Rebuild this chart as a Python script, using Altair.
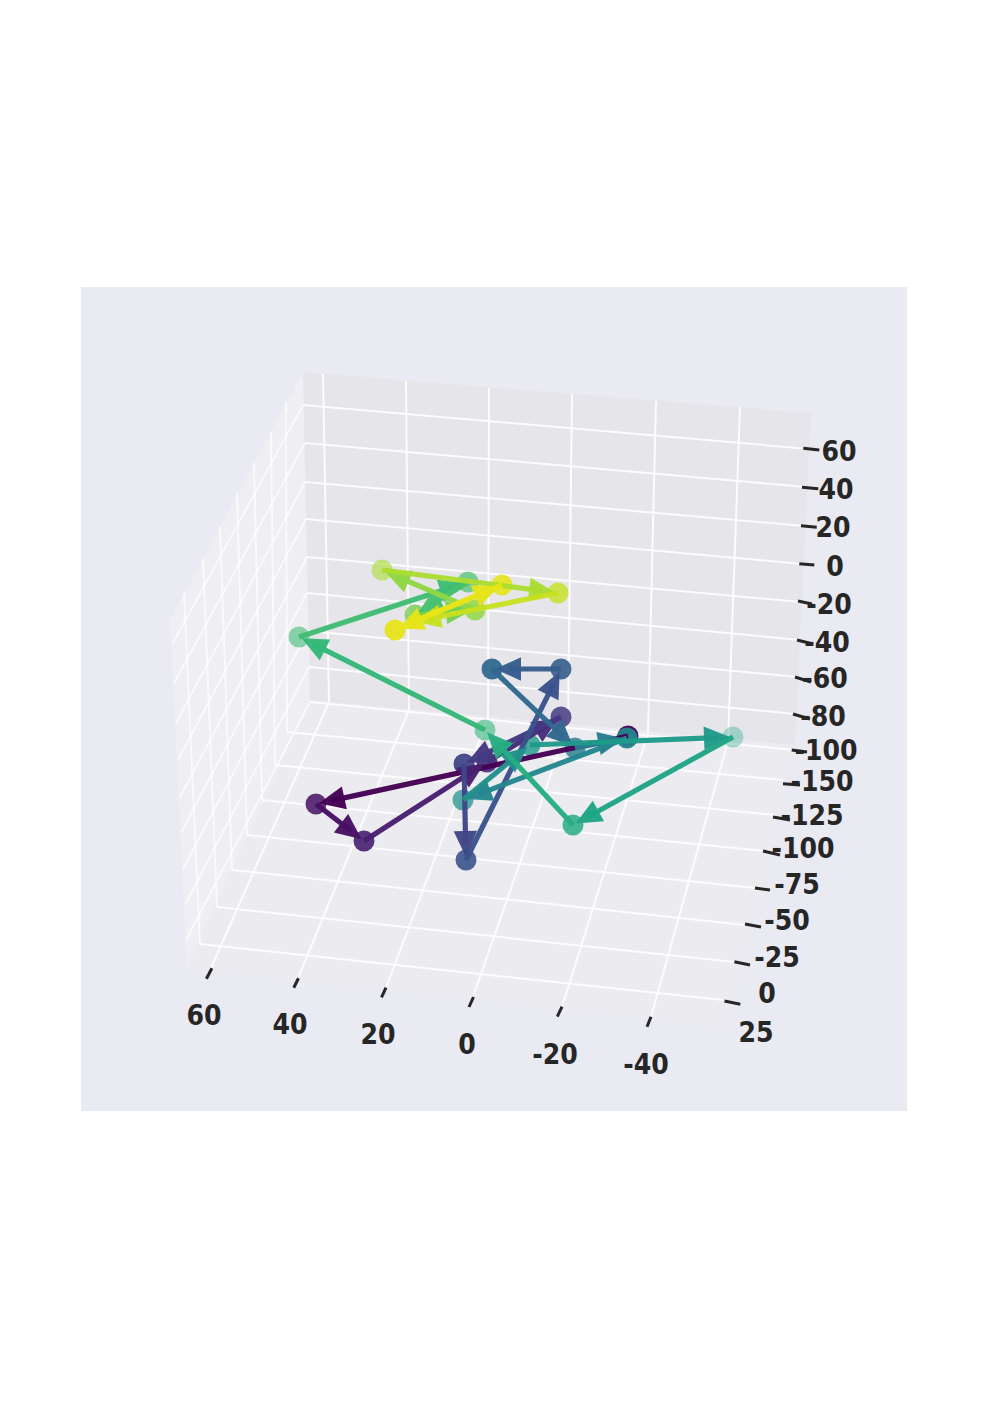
import math
import altair as alt
import pandas as pd

W, H = 981, 1390
# all values are read in the picture's projected plane
panel = [(81, 907, 287, 1111)]
pane_back = [(303, 372), (811, 413), (795, 745), (310, 700)]
pane_left = [(303, 372), (170, 620), (187, 970), (310, 700)]
pane_floor = [(310, 700), (795, 745), (727, 1027), (186, 968)]
pane_colors = {"back": "#e6e6ea", "left": "#eeeef3", "floor": "#ececf0"}

back_h = [(303,405,809,449),(305,443,806,487),(305,482,805,526),(306,519,803,564),
          (307,557,801,602),(307,593,800,640),(308,631,798,677),(309,667,796,714),(310,702,794,750)]
left_h = [(303,405,173,643),(305,443,174,683),(305,482,176,723),(306,519,178,760),
          (307,557,180,797),(307,593,181,833),(308,631,183,869),(309,667,185,905),(310,702,186,940)]
back_v = [(323,374,329,702),(406,381,409,710),(489,388,488,718),(572,394,568,725),(656,401,648,733),(740,407,728,741)]
floor_v = [(329,702,211,968),(409,710,298,978),(488,718,386,988),(568,725,473,997),(648,733,562,1007),(728,741,651,1017)]
floor_h = [(287,732,783,780),(275,765,775,815),(262,800,765,851),(247,835,755,888),
           (232,870,745,925),(217,907,735,962),(200,944,723,1000)]
left_v = [(286,402,287,732),(271,432,275,765),(254,463,262,800),(237,493,247,835),
          (220,526,232,870),(203,559,217,907),(184,593,200,944)]

ticks = [(206.4,978.7,211.9,968.3),(293.7,987.7,298.5,978.3),(381.5,997.3,386,987.7),(469,1007,473.5,997),
         (557.3,1016.7,562,1006.7),(647,1026.7,651,1016.7),
         (803.3,448.3,819.3,450),(802,487.3,818.3,488.7),(801,525.7,816.7,527.3),(799.3,563.7,814.3,565),
         (798,601,812,604),(797,640,813,644),(795,677,811,682),(793,714,810,719),(791.7,750,807,752),
         (783,783.7,800,785),(773,817,790,820),(763,851,780,855),(755,888,770,890),
         (745,924,761,927),(734.4,961.7,750,965),(724.5,1001,740.3,1004.3)]

label_text = ["60","40","20","0","-20","-40",
              "60","40","20","0","-20","-40","-60","-80","-100",
              "-150","-125","-100","-75","-50","-25","0","25"]
label_x = [204,290,378,467,555,646, 839,836,833,835,829,827,825,823,826, 822,812,803,797,787,777,767,756]
label_y = [1016.5,1025.5,1035.5,1045.5,1055.5,1065.5, 452.5,490.5,528.5,567.5,605.5,643.5,679.5,717.5,751.5,
           782.5,816.5,849.5,885.5,921.5,958.5,994.5,1033.5]

px = [628,316,364,487,561,464,466,561,492,575,627,463,530,733,573,485,299,468,415,475,382,558,412,502,395]
py = [736,804,841,762,717,764,860,669,669,748,738,800,745,737,825,730,637,582,615,610,570,593,622,585,630]
pcolor = ["#440154","#471164","#481f70","#472d7b","#443983","#404688","#3b528b","#365d8d","#31688e",
          "#287c8e","#24868e","#21918c","#1f9a8a","#20a486","#27ad81","#35b779","#3fbc73",
          "#47c16e","#75d054","#8fd744","#aadc32","#c7e020","#e3e418","#e6e419","#e6e419"]
palpha = [.95,.85,.9,.9,.85,.95,.9,.9,.95,.8,.95,.75,.8,.35,.85,.6,.6,.7,.8,.85,.6,.8,0,.9,.95]

HEAD_LEN = 26
HEAD_PATH = "M0,-1L-0.9,1L0.9,1Z"
GAP = 3

xs = alt.Scale(domain=[8, 8 + W], nice=False, zero=False)
ys = alt.Scale(domain=[8 + H, 8], nice=False, zero=False)
X = alt.X("x:Q", scale=xs, axis=None)
Y = alt.Y("y:Q", scale=ys, axis=None)


def envelope(corners, name):
    n = len(corners)
    edges = [(corners[i], corners[(i + 1) % n]) for i in range(n)]
    rows = []
    for xv in sorted({c[0] for c in corners}):
        hits = []
        for (a, b) in edges:
            lo, hi = min(a[0], b[0]), max(a[0], b[0])
            if lo <= xv <= hi and a[0] != b[0]:
                hits.append(a[1] + (b[1] - a[1]) * (xv - a[0]) / (b[0] - a[0]))
        rows.append({"x": xv, "y": min(hits), "y2": max(hits), "pane": name})
    return rows


def segs(items):
    return pd.DataFrame([dict(x=a, y=b, x2=c, y2=d) for a, b, c, d in items])


def rules(items, color, width, opacity=1.0):
    return alt.Chart(segs(items)).mark_rule(color=color, strokeWidth=width, opacity=opacity).encode(
        x=X, y=Y, x2="x2:Q", y2="y2:Q")


bg = alt.Chart(pd.DataFrame([dict(x=a, x2=b, y=c, y2=d) for a, b, c, d in panel])).mark_rect(
    color="#eaeaf2").encode(x=X, x2="x2:Q", y=Y, y2="y2:Q")

pane_layers = []
for nm, pts in [("left", pane_left), ("floor", pane_floor), ("back", pane_back)]:
    pane_layers.append(
        alt.Chart(pd.DataFrame(envelope(pts, nm))).mark_area(color=pane_colors[nm]).encode(
            x=X, y=Y, y2="y2:Q"))

grid_side = rules(left_h + left_v, "#ffffff", 1.9, 0.7)
grid = rules(floor_h + floor_v + back_h + back_v, "#ffffff", 2.0, 0.85)
tick_layer = rules(ticks, "#262626", 3.0)

labels = alt.Chart(pd.DataFrame({"x": label_x, "y": label_y, "t": label_text})).mark_text(
    font="DejaVu Sans Condensed", fontWeight="bold", fontSize=28, color="#262626",
    align="center", baseline="middle").encode(x=X, y=Y, text="t:N")

points = pd.DataFrame({"x": px, "y": py, "c": pcolor, "a": palpha, "i": range(len(px))})
circles = alt.Chart(points).mark_circle(size=440, stroke=None).encode(
    x=X, y=Y, color=alt.Color("c:N", scale=None),
    opacity=alt.Opacity("a:Q", scale=None), order="i:Q")

seg_rows, head_rows = [], []
for i in range(len(px) - 1):
    dx, dy = px[i + 1] - px[i], py[i + 1] - py[i]
    ln = math.hypot(dx, dy)
    ux, uy = dx / ln, dy / ln
    hx, hy = px[i + 1] - ux * (HEAD_LEN / 2 + GAP), py[i + 1] - uy * (HEAD_LEN / 2 + GAP)
    seg_rows.append(dict(x=px[i], y=py[i], x2=hx, y2=hy, c=pcolor[i], i=i))
    head_rows.append(dict(x=hx, y=hy, c=pcolor[i], ang=(math.degrees(math.atan2(dx, -dy)) + 360) % 360, i=i))

arrow_layers = []
for s, h in zip(seg_rows, head_rows):
    arrow_layers.append(
        alt.Chart(pd.DataFrame([s])).mark_rule(strokeWidth=5.2, color=s["c"], opacity=0.97).encode(
            x=X, y=Y, x2="x2:Q", y2="y2:Q"))
    arrow_layers.append(
        alt.Chart(pd.DataFrame([h])).mark_point(
            shape=HEAD_PATH, filled=True, size=HEAD_LEN ** 2, color=h["c"], opacity=0.97).encode(
            x=X, y=Y, angle=alt.Angle("ang:Q", scale=None)))

chart = alt.layer(bg, *pane_layers, grid_side, grid, tick_layer, labels, circles, *arrow_layers).properties(
    width=W, height=H, padding=0, autosize=alt.AutoSizeParams(type="none"), background="#ffffff"
).configure_view(stroke=None)

chart.save("out.html", embed_options={"renderer": "svg", "actions": False})
